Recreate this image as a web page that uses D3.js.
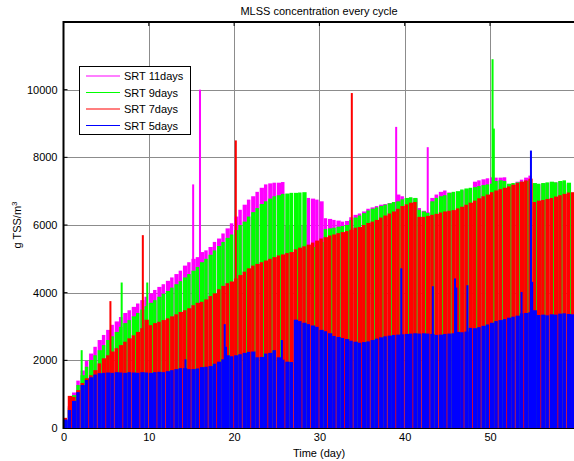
<!DOCTYPE html>
<html>
<head>
<meta charset="utf-8">
<script src="https://cdn.jsdelivr.net/npm/d3@7/dist/d3.min.js"></script>
<style>
  body { margin: 0; background: #fff; }
  svg { display: block; }
  text { font-family: "Liberation Sans", Arial, Helvetica, sans-serif; fill: #000; }
</style>
</head>
<body>
<svg id="chart" width="574" height="461"></svg>
<script>
// Sampling: one value per half day, each bar covers [t, t + 0.5)
const sampleStep = 0.5;
const times = d3.range(0, 60, sampleStep);

// MLSS (g TSS/m3) per half day, by sludge retention time
const srt11 = [200,650,1050,1400,1700,1980,2200,2400,2600,2750,2900,3050,3150,3280,3400,3480,3580,3680,3780,3880,
  3980,4080,4170,4250,4350,4450,4550,4650,4800,4900,5000,5050,5200,5250,5350,5500,5600,5750,5900,6050,
  6250,6450,6600,6750,6850,6980,7100,7200,7230,7250,7250,7270,6000,6000,6000,6000,6000,6800,6780,6750,
  6700,6200,6180,6150,6130,6100,6120,6230,6300,6340,6400,6480,6520,6560,6600,6620,6650,6680,6900,6850,
  6780,6800,6780,6500,6420,6380,6800,6900,6980,7020,6960,6950,6980,7020,7050,7080,7280,7320,7350,7380,
  7410,7400,7400,7410,7200,7220,7280,7340,7400,7460,7200,7200,7220,7240,7250,7260,7280,7270,7200,null];
const srt9 = [200,600,970,1270,1560,1810,2010,2150,2300,2450,2600,2710,2840,2990,3100,3190,3300,3400,3500,3600,
  3700,3780,3880,3970,4050,4150,4250,4340,4450,4550,4650,4760,4900,5000,5120,5250,5380,5500,5620,5720,
  5850,6000,6100,6250,6380,6500,6620,6700,6780,6850,6880,6920,6930,6950,6950,6960,6970,5300,5350,5400,
  5500,5880,5900,5920,5950,5970,6000,6150,6220,6280,6350,6430,6480,6520,6560,6600,6640,6680,6700,6760,
  6800,6820,6800,6450,6400,6360,6700,6800,6850,6880,6950,6980,7000,7050,7080,7100,7120,7150,7180,7200,
  7220,7300,7320,7300,7220,7240,7260,7280,7300,7320,7240,7220,7240,7260,7280,7260,7300,7320,7250,null];
const srt7 = [300,950,920,1120,1330,1470,1560,1710,1910,2060,2150,2260,2360,2450,2550,2650,2740,2840,2950,3200,
  3040,3100,3140,3190,3240,3300,3360,3430,3480,3540,3630,3700,3730,3800,3900,3980,4100,4200,4280,4330,
  4420,4520,4620,4720,4800,4850,4900,4950,5000,5050,5100,5130,5170,5200,5280,5330,5370,5420,5480,5540,
  5600,5640,5690,5720,5760,5790,5820,5860,5920,5940,6000,6060,6100,6150,6220,6280,6340,6400,6480,6560,
  6610,6660,6680,6240,6240,6270,6300,6330,6370,6400,6420,6440,6490,6540,6600,6660,6720,6790,6850,6900,
  6970,7020,7060,7100,7140,7190,7240,7280,7320,7370,6680,6720,6740,6770,6800,6840,6880,6920,6960,6970];
const srt5 = [250,530,800,1060,1270,1420,1500,1580,1620,1630,1640,1630,1650,1640,1630,1650,1640,1630,1650,1640,
  1630,1650,1660,1650,1680,1710,1740,1770,1770,1740,1740,1760,1800,1810,1830,1900,1960,2030,2150,2120,
  2150,2180,2220,2250,2260,2090,2100,2200,2220,2300,2090,2020,1960,1950,3200,3160,3110,3070,3030,2990,
  2900,2860,2800,2720,2690,2660,2630,2580,2550,2520,2540,2560,2600,2640,2680,2710,2730,2750,2760,2770,
  2780,2790,2800,2790,2800,2790,2780,2750,2760,2780,2790,2800,2840,2830,2850,2960,2950,2980,3020,3060,
  3110,3160,3190,3220,3260,3290,3320,3390,3400,3420,3480,3340,3350,3330,3360,3350,3380,3390,3370,3360];

// Single-cycle peaks: [day, g TSS/m3]
const spikes11 = [[15.2, 7200], [16.0, 10000], [39.0, 8900], [42.7, 8300]];
const spikes9 = [[2.13, 2300], [6.82, 4300], [9.82, 4300], [50.3, 10900], [50.45, 8850]];
const spikes7 = [[5.5, 3750], [9.3, 5700], [20.2, 8500], [33.8, 9900]];
const spikes5 = [[14.3, 2030], [18.9, 3070], [19.05, 2400], [25.6, 2600], [39.6, 4720], [43.3, 4190],
  [45.9, 4420], [46.05, 4150], [47.35, 4220], [53.7, 4020], [54.8, 8200], [54.95, 4320]];

const seriesNames = ["SRT 11days", "SRT 9days", "SRT 7days", "SRT 5days"];
const seriesColors = ["#ff00ff", "#00ff00", "#ff0000", "#0000ff"];
const seriesValues = [srt11, srt9, srt7, srt5];
const seriesSpikes = [spikes11, spikes9, spikes7, spikes5];

const xTicks = [0, 10, 20, 30, 40, 50];
const yTicks = [0, 2000, 4000, 6000, 8000, 10000];

const svg = d3.select("#chart");
const margin = { left: 63.5, top: 22, bottom: 428 };
const x = d3.scaleLinear().domain([0, 60]).range([margin.left, margin.left + 60 * 8.53]);
const y = d3.scaleLinear().domain([0, 12000]).range([margin.bottom, margin.top]);

svg.append("defs").append("clipPath").attr("id", "plotClip")
  .append("rect").attr("x", x(0)).attr("y", y(12000))
  .attr("width", x(60) - x(0)).attr("height", y(0) - y(12000));

// Grid
const grid = svg.append("g").attr("stroke", "#8c8c8c").attr("stroke-width", 1);
grid.selectAll("line.v").data(xTicks.slice(1)).join("line")
  .attr("x1", d => Math.round(x(d)) + 0.5).attr("x2", d => Math.round(x(d)) + 0.5)
  .attr("y1", y(12000)).attr("y2", y(0));
grid.selectAll("line.h").data(yTicks.slice(1)).join("line")
  .attr("x1", x(0)).attr("x2", x(60))
  .attr("y1", d => Math.round(y(d)) + 0.5).attr("y2", d => Math.round(y(d)) + 0.5);

// Series: one bar per sample; every other bar is a touch narrower,
// leaving hairline seams through which the layer underneath shows.
const plot = svg.append("g").attr("clip-path", "url(#plotClip)");
const seamParity = [1, 1, 0, 1];
seriesValues.forEach((vals, si) => {
  const g = plot.append("g").attr("fill", seriesColors[si]);
  const pts = times.map((t, i) => ({ t, v: vals[i], i })).filter(d => d.v != null);
  g.selectAll("rect.bar").data(pts).join("rect")
    .attr("class", "bar")
    .attr("x", d => x(d.t))
    .attr("width", d => x(d.t + sampleStep) - x(d.t) - (d.i % 2 === seamParity[si] ? 0.8 : 0))
    .attr("y", d => y(d.v))
    .attr("height", d => y(0) - y(d.v));
  g.selectAll("rect.spike").data(seriesSpikes[si]).join("rect")
    .attr("class", "spike")
    .attr("x", d => x(d[0]) - 1)
    .attr("width", 2)
    .attr("y", d => y(d[1]))
    .attr("height", d => y(0) - y(d[1]));
});

// Axes frame (MATLAB style: ticks inside)
const axisG = svg.append("g");
axisG.append("line").attr("x1", x(0)).attr("x2", x(0)).attr("y1", y(12000) - 1).attr("y2", y(0) + 1)
  .attr("stroke", "#000").attr("stroke-width", 2);
axisG.append("line").attr("x1", x(0)).attr("x2", x(60)).attr("y1", y(12000)).attr("y2", y(12000))
  .attr("stroke", "#000").attr("stroke-width", 2);
axisG.append("line").attr("x1", x(0)).attr("x2", x(60)).attr("y1", y(0) + 0.5).attr("y2", y(0) + 0.5)
  .attr("stroke", "#000").attr("stroke-width", 1);

const xAxis = d3.axisBottom(x).tickValues(xTicks).tickSize(0).tickPadding(5).tickFormat(d3.format("d"));
const xg = svg.append("g").attr("transform", `translate(0,${y(0)})`).call(xAxis);
xg.select(".domain").remove();
xg.selectAll("text").attr("font-size", 11).attr("font-family", "Liberation Sans, Arial, sans-serif");

const yAxis = d3.axisLeft(y).tickValues(yTicks).tickSize(0).tickPadding(6).tickFormat(d3.format("d"));
const yg = svg.append("g").attr("transform", `translate(${x(0)},0)`).call(yAxis);
yg.select(".domain").remove();
yg.selectAll("text").attr("font-size", 11).attr("font-family", "Liberation Sans, Arial, sans-serif");

// inner tick marks on top and left
axisG.selectAll("line.tx").data(xTicks.slice(1)).join("line")
  .attr("x1", d => x(d)).attr("x2", d => x(d)).attr("y1", y(12000)).attr("y2", y(12000) + 4)
  .attr("stroke", "#000");
axisG.selectAll("line.ty").data(yTicks.slice(1)).join("line")
  .attr("x1", x(0)).attr("x2", x(0) + 4).attr("y1", d => y(d)).attr("y2", d => y(d))
  .attr("stroke", "#000");

// Titles
svg.append("text").attr("x", 319).attr("y", 15).attr("text-anchor", "middle")
  .attr("font-size", 11).text("MLSS concentration every cycle");
svg.append("text").attr("x", 319).attr("y", 457).attr("text-anchor", "middle")
  .attr("font-size", 11).text("Time (day)");
const yl = svg.append("text").attr("transform", `translate(21,${(y(0) + y(12000)) / 2}) rotate(-90)`)
  .attr("text-anchor", "middle").attr("font-size", 11);
yl.append("tspan").text("g TSS/m");
yl.append("tspan").attr("font-size", 8).attr("dy", -4).text("3");

// Legend
const lg = svg.append("g").attr("transform", "translate(79,66)");
lg.append("rect").attr("x", 0.5).attr("y", 0.5).attr("width", 111).attr("height", 68)
  .attr("fill", "#fff").attr("stroke", "#000").attr("stroke-width", 1);
seriesNames.forEach((name, i) => {
  const ry = 10 + i * 16.5;
  lg.append("line").attr("x1", 7).attr("x2", 41).attr("y1", ry).attr("y2", ry)
    .attr("stroke", seriesColors[i]).attr("stroke-width", 1.2);
  lg.append("text").attr("x", 45).attr("y", ry + 4).attr("font-size", 11).text(name);
});
</script>
</body>
</html>
